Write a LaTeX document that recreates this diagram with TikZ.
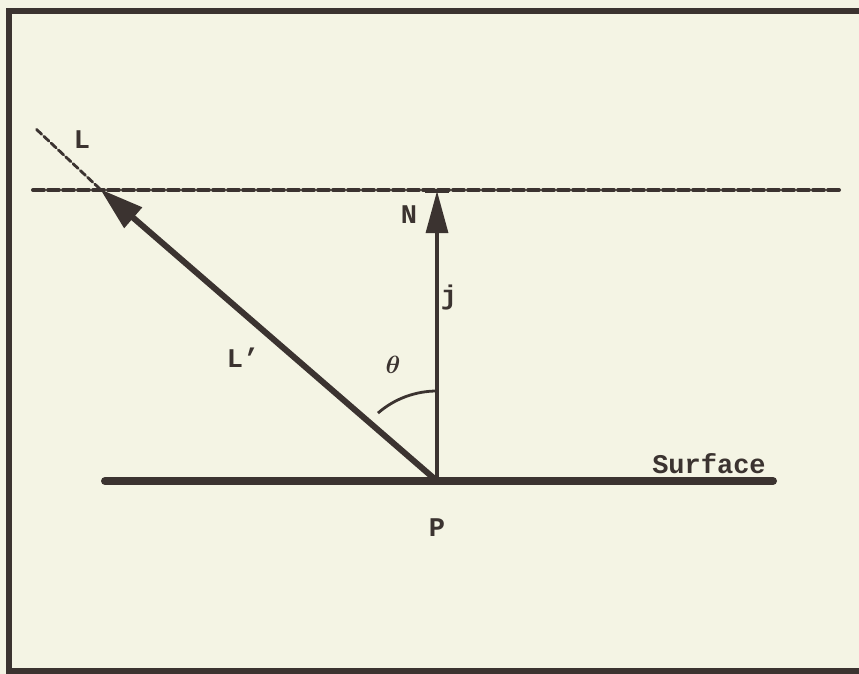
\documentclass[tikz,border=0pt]{standalone}
\usepackage{fontspec}
\usepackage{bm}
\setmonofont{Liberation Mono}
\usetikzlibrary{arrows.meta,calc}
\definecolor{bgc}{HTML}{F4F4E4}
\definecolor{ink}{HTML}{3B3330}
\begin{document}
\begin{tikzpicture}[x=1pt,y=-1pt,
  lbl/.style={font=\ttfamily\bfseries\fontsize{27}{27}\selectfont, text=ink, inner sep=0pt},
  dashline/.style={draw=ink, line width=4pt, dash pattern=on 11pt off 4pt, line cap=round}]
\useasboundingbox (0,0) rectangle (859,674);
\fill[bgc] (0,0) rectangle (859,674);
\draw[ink, line width=5.5pt] (9,11) rectangle (868,671);
% coordinates
\coordinate (P) at (437,481);
\coordinate (Ltip) at (100,189);
\coordinate (Lend) at (35,128);
\coordinate (Ntip) at (437,191);
\coordinate (SL) at (105,481);
\coordinate (SR) at (773,481);
\coordinate (DL) at (33,190);
\coordinate (DR) at (840,190);
% dashed horizontal
\draw[dashline] (DL) -- (DR);
% dashed extension of L
\draw[ink, line width=2.8pt, dash pattern=on 7pt off 3pt, line cap=round] (Ltip) -- (Lend);
% surface
\draw[ink, line width=8pt, line cap=round] (SL) -- (SR);
% L' arrow
\draw[ink, line width=6pt, -{Triangle[length=44pt, width=26pt]}] (P) -- (Ltip);
% N arrow
\draw[ink, line width=3.2pt, -{Triangle[length=42pt, width=22pt]}] (P) -- (Ntip);
\draw[ink, line width=4pt] ($(Ntip)+(-12,0)$) -- ($(Ntip)+(12,0)$);
% theta arc
\draw[ink, line width=2.8pt] (P) ++(-131:90) arc[start angle=-131, end angle=-90, radius=90];
% labels
\node[lbl] (lL) at (82,140) {L};
\node[lbl] (lN) at (409,215) {N};
\node[lbl] (lj) at (449,298) {j};
\node[lbl] (lLp) at (243,358) {L’};
\node[text=ink, inner sep=0pt, font=\fontsize{29}{29}\selectfont] (lth) at (393,365) {$\bm{\theta}$};
\node[lbl] (lS) at (709,464) {Surface};
\node[lbl] (lP) at (437,528) {P};
\end{tikzpicture}
\end{document}
